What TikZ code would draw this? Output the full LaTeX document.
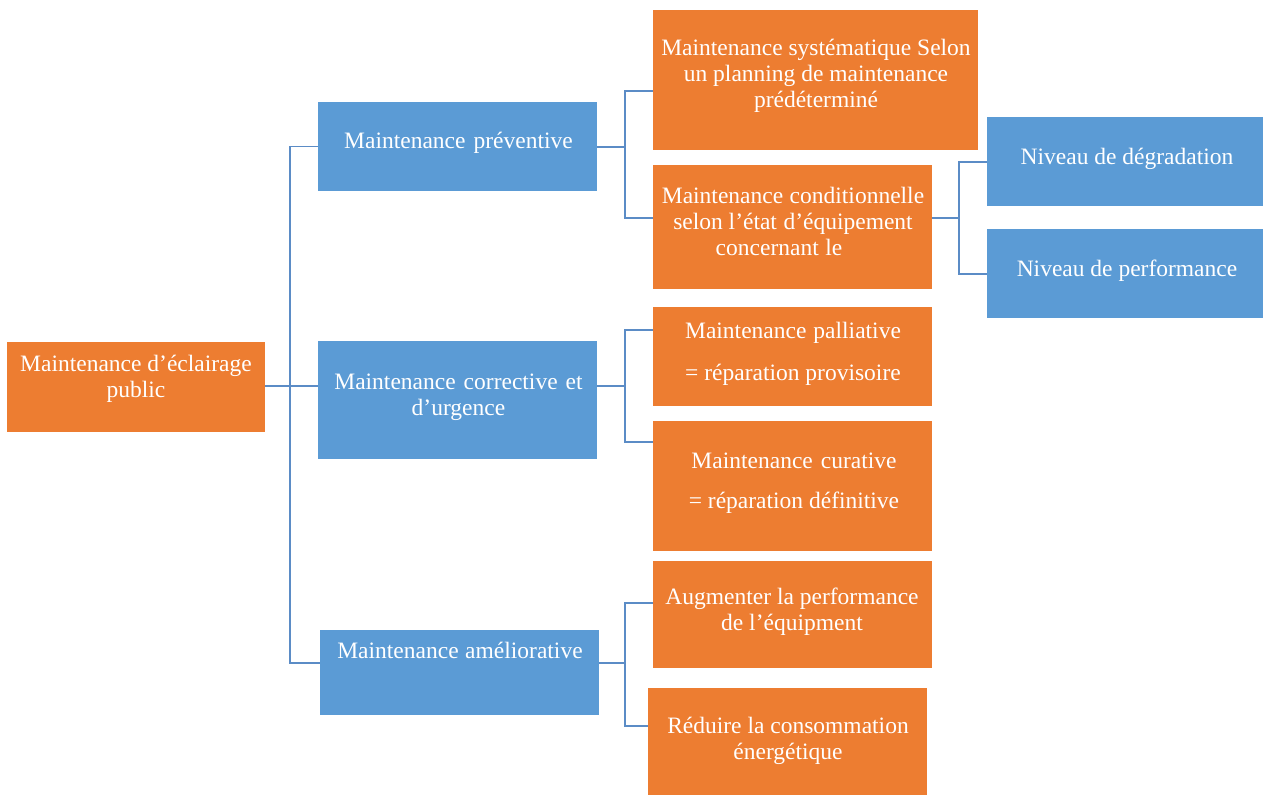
\documentclass[tikz,border=0pt]{standalone}
\usepackage{fontspec}
\setmainfont{Liberation Serif}
\definecolor{orng}{HTML}{ED7D31}
\definecolor{blu}{HTML}{5B9BD5}
\definecolor{lin}{HTML}{5B8CC6}
\newcommand\ws{\hspace{8pt}}
\begin{document}
\begin{tikzpicture}[x=1pt,y=-1pt,
  box/.style={rectangle, inner sep=0pt, outer sep=0pt, draw=none},
  obox/.style={box, fill=orng},
  bbox/.style={box, fill=blu},
  txt/.style={inner sep=0pt, text=white, align=center, font=\fontsize{23.5}{26}\selectfont},
  conn/.style={draw=lin, line width=1.4pt}]
\useasboundingbox (0,0) rectangle (1264,796);
% boxes
\node[obox, minimum width=258pt, minimum height=90pt] (root) at (136,387) {};
\node[bbox, minimum width=279pt, minimum height=89pt] (prev) at (457.5,146.5) {};
\node[bbox, minimum width=279pt, minimum height=118pt] (corr) at (457.5,400) {};
\node[bbox, minimum width=279pt, minimum height=85pt] (amel) at (459.5,672.5) {};
\node[obox, minimum width=325pt, minimum height=140pt] (sys) at (815.5,80) {};
\node[obox, minimum width=279pt, minimum height=124pt] (cond) at (792.5,227) {};
\node[obox, minimum width=279pt, minimum height=99pt] (pall) at (792.5,356.5) {};
\node[obox, minimum width=279pt, minimum height=130pt] (cur) at (792.5,486) {};
\node[obox, minimum width=279pt, minimum height=107pt] (aug) at (792.5,614.5) {};
\node[obox, minimum width=279pt, minimum height=107pt] (red) at (787.5,741.5) {};
\node[bbox, minimum width=276pt, minimum height=89pt] (deg) at (1125,161.5) {};
\node[bbox, minimum width=276pt, minimum height=89pt] (perf) at (1125,273.5) {};
% texts
\node[txt] (troot) at (136,379) {Maintenance d’éclairage\\public};
\node[txt] (tprev) at (458.5,143) {Maintenance\ws préventive};
\node[txt] (tcorr) at (458.5,397) {Maintenance\ws corrective\ws et\\d’urgence};
\node[txt] (tamel) at (460,650) {Maintenance\hspace{6.5pt}améliorative};
\node[txt] (tsys) at (816,75.5) {Maintenance systématique Selon\\un planning de maintenance\\prédéterminé};
\node[txt] (tcond) at (793,221) {Maintenance\hspace{6.5pt}conditionnelle\\selon l’état\hspace{6.5pt}d’équipement\hspace*{4pt}\\concernant\hspace{6.5pt}le\hspace*{28pt}};
\node[txt] (tpall) at (793,354) {Maintenance\hspace{7pt}palliative\\[16pt]= réparation provisoire};
\node[txt] (tcur) at (794,483) {Maintenance\ws curative\\[14pt]= réparation définitive};
\node[txt] (taug) at (792,611.5) {Augmenter la performance\\de l’équipment};
\node[txt] (tred) at (788,741) {Réduire la consommation\\énergétique};
\node[txt] (tdeg) at (1127,159) {Niveau de dégradation};
\node[txt] (tperf) at (1127,271) {Niveau de performance};
% junction coordinates
\coordinate (t) at (290,386);
\coordinate (p) at (625,147);
\coordinate (c) at (625,386);
\coordinate (a) at (625,663);
\coordinate (k) at (959,218);
\coordinate (ya) at (0,663);
\coordinate (ys) at (0,91);
\coordinate (yc) at (0,218);
\coordinate (yp) at (0,330);
\coordinate (yq) at (0,442);
\coordinate (yg) at (0,603);
\coordinate (yr) at (0,726);
\coordinate (yd) at (0,162);
\coordinate (ye) at (0,274);
% connectors
\draw[conn] (root.east |- t) -- (t);
\draw[conn] (prev.west) -| (t) |- (amel.west |- ya);
\draw[conn] (t) -- (corr.west |- t);
\draw[conn] (prev.east |- p) -- (p);
\draw[conn] (sys.west |- ys) -| (p) |- (cond.west |- yc);
\draw[conn] (corr.east |- c) -- (c);
\draw[conn] (pall.west |- yp) -| (c) |- (cur.west |- yq);
\draw[conn] (amel.east |- a) -- (a);
\draw[conn] (aug.west |- yg) -| (a) |- (red.west |- yr);
\draw[conn] (cond.east |- k) -- (k);
\draw[conn] (deg.west |- yd) -| (k) |- (perf.west |- ye);
\end{tikzpicture}
\end{document}
